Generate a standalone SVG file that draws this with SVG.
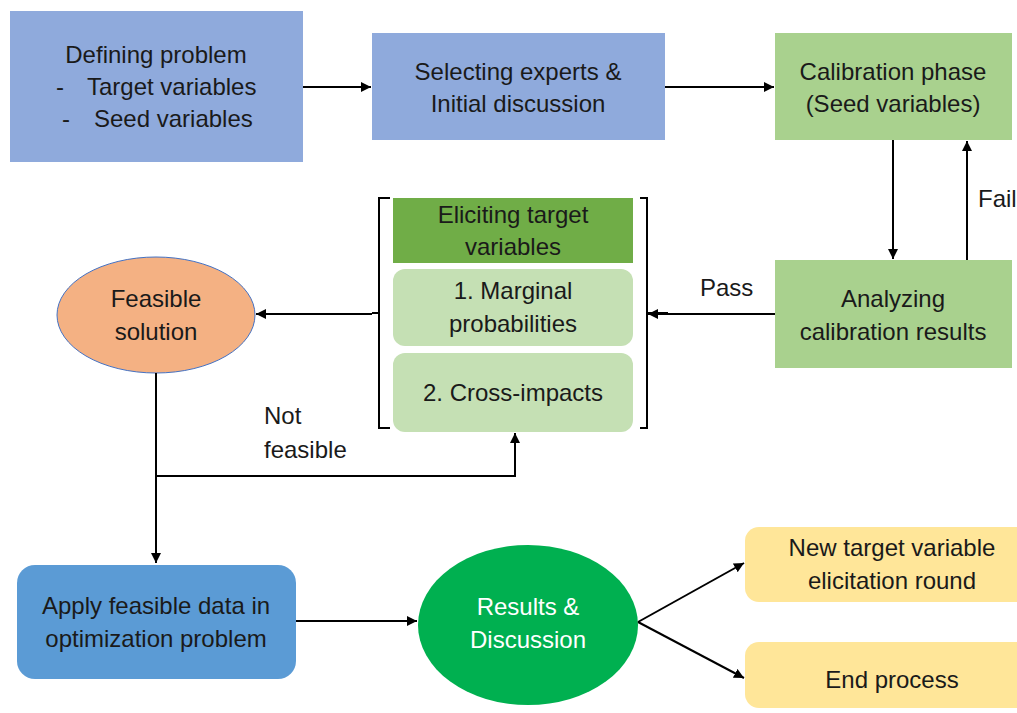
<svg xmlns="http://www.w3.org/2000/svg" width="1017" height="713" viewBox="0 0 1017 713">
<defs>
<marker id="ah" viewBox="0 0 10 10" refX="10" refY="5" markerWidth="5" markerHeight="5" orient="auto-start-reverse" markerUnits="strokeWidth">
<path d="M0,0 L10,5 L0,10 z" fill="#000"/>
</marker>
<style>
text{font-family:"Liberation Sans",Arial,sans-serif;font-size:24px;fill:#1a1a1a;text-anchor:middle}
.w{fill:#ffffff}
.l{text-anchor:start}
.c{fill:none;stroke:#000;stroke-width:2}
.a{marker-end:url(#ah)}
.br{fill:none;stroke:#000;stroke-width:2}
</style>
</defs>
<rect width="1017" height="713" fill="#fff"/>

<g id="defining">
<rect x="10" y="11" width="293" height="151" fill="#8faadc"/>
<text x="156" y="63">Defining problem</text>
<text x="56" y="95" class="l">-</text>
<text x="87" y="95" class="l">Target variables</text>
<text x="62" y="127" class="l">-</text>
<text x="94" y="127" class="l">Seed variables</text>
</g>

<g id="selecting">
<rect x="372" y="33" width="293" height="107" fill="#8faadc"/>
<text x="518" y="80">Selecting experts &amp;</text>
<text x="518" y="112">Initial discussion</text>
</g>

<g id="calibration">
<rect x="775" y="33" width="237" height="107" fill="#a9d18e"/>
<text x="893" y="80">Calibration phase</text>
<text x="893" y="112">(Seed variables)</text>
</g>

<g id="analyzing">
<rect x="775" y="260" width="237" height="108" fill="#a9d18e"/>
<text x="893" y="307">Analyzing</text>
<text x="893" y="340">calibration results</text>
</g>

<g id="eliciting">
<path class="br" d="M390,198 H379 V428 H390 M379,313 H372"/>
<path class="br" d="M640,198 H647 V428 H640 M647,313 H668"/>
<rect x="393" y="198" width="240" height="65" fill="#70ad47"/>
<text x="513" y="223">Eliciting target</text>
<text x="513" y="255">variables</text>
</g>

<g id="marginal">
<rect x="393" y="269" width="240" height="77" rx="12" fill="#c5e0b4"/>
<text x="513" y="299">1. Marginal</text>
<text x="513" y="332">probabilities</text>
</g>

<g id="crossimpacts">
<rect x="393" y="353" width="240" height="79" rx="12" fill="#c5e0b4"/>
<text x="513" y="401">2. Cross-impacts</text>
</g>

<g id="feasible">
<ellipse cx="156" cy="315" rx="99" ry="58" fill="#f4b183" stroke="#4472c4" stroke-width="1"/>
<text x="156" y="307">Feasible</text>
<text x="156" y="340">solution</text>
</g>

<g id="apply">
<rect x="17" y="565" width="279" height="114" rx="18" fill="#5b9bd5"/>
<text x="156" y="614">Apply feasible data in</text>
<text x="156" y="647">optimization problem</text>
</g>

<g id="results">
<ellipse cx="528" cy="625" rx="110" ry="80" fill="#00b050"/>
<text x="528" y="615" class="w">Results &amp;</text>
<text x="528" y="648" class="w">Discussion</text>
</g>

<g id="newround">
<rect x="745" y="527" width="290" height="75" rx="14" fill="#ffe699"/>
<text x="892" y="556">New target variable</text>
<text x="892" y="589">elicitation round</text>
</g>

<g id="endprocess">
<rect x="745" y="642" width="290" height="66" rx="14" fill="#ffe699"/>
<text x="892" y="688">End process</text>
</g>

<g id="connectors">
<line class="c a" x1="303" y1="87" x2="371" y2="87"/>
<line class="c a" x1="665" y1="87" x2="774" y2="87"/>
<line class="c a" x1="893" y1="140" x2="893" y2="259"/>
<line class="c a" x1="967" y1="260" x2="967" y2="141"/>
<text x="978" y="207" class="l">Fail</text>
<line class="c a" x1="775" y1="314" x2="648" y2="314"/>
<text x="700" y="296" class="l">Pass</text>
<line class="c a" x1="372" y1="314" x2="256" y2="314"/>
<line class="c a" x1="156" y1="373" x2="156" y2="563"/>
<polyline class="c a" points="156,476 515,476 515,433"/>
<text x="264" y="424" class="l">Not</text>
<text x="264" y="458" class="l">feasible</text>
<line class="c a" x1="296" y1="621" x2="417" y2="621"/>
<line class="c a" x1="638" y1="622" x2="744" y2="563"/>
<line class="c a" x1="638" y1="622" x2="744" y2="678"/>
</g>
</svg>
